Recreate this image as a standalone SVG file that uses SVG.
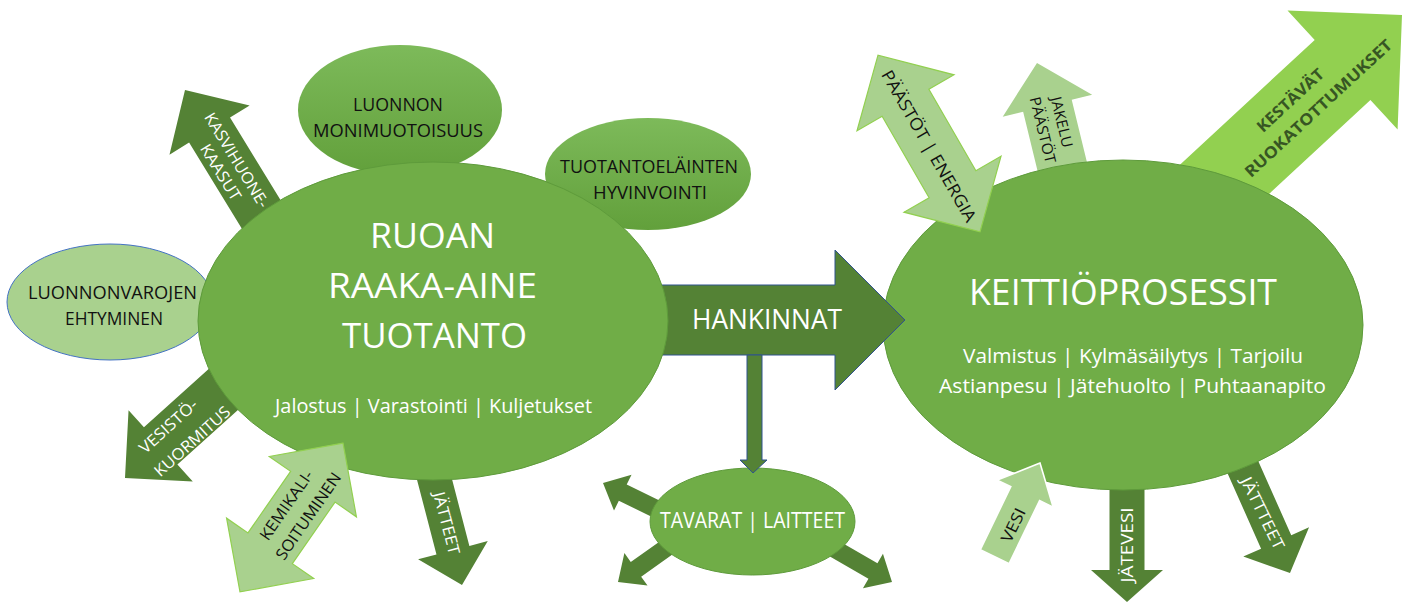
<svg xmlns="http://www.w3.org/2000/svg" width="1410" height="603" viewBox="0 0 1410 603">
  <defs>
    <linearGradient id="softGreen" x1="0" y1="0" x2="0" y2="1">
      <stop offset="0" stop-color="#7DBA5A"/>
      <stop offset="1" stop-color="#62A03B"/>
    </linearGradient>
    <style>
      .t { font-family: "Open Sans", "Liberation Sans", sans-serif; }
      .w { fill: #ffffff; }
      .k { fill: #111111; }
      .g { fill: #375623; font-weight: 700; }
      .mid { text-anchor: middle; }
      .dark { fill: #548235; }
      .light { fill: #A9D18E; }
      .bright { fill: #92D050; }
      .edge-bright { stroke: #92D050; stroke-width: 1.2; }
      .edge-white { stroke: #ffffff; stroke-width: 1.6; }
      .ell { fill: #70AD47; stroke: #5E9B3B; stroke-width: 1; }
      .ell-soft { fill: url(#softGreen); stroke: none; }
      .link { fill: #548235; stroke: #2F528F; stroke-width: 1; }
    </style>
  </defs>

  <rect width="1410" height="603" fill="#ffffff"/>

  <!-- arrows that start behind the kitchen ellipse -->
  <g id="jakelu-paastot">
    <polygon class="light" points="0,0 -44,-46 -44,-25 -140,-25 -140,25 -44,25 -44,46" transform="translate(1037,63) rotate(-103.7)"/>
    <text class="t k mid" font-size="15" textLength="52" lengthAdjust="spacingAndGlyphs" x="0" y="5.5" transform="translate(1062,122) rotate(76.3)">JAKELU</text>
    <text class="t k mid" font-size="15" textLength="68" lengthAdjust="spacingAndGlyphs" x="0" y="5.5" transform="translate(1043,130) rotate(76.3)">PÄÄSTÖT</text>
  </g>
  <g id="kestavat-ruokatottumukset">
    <polygon class="bright" points="0,0 -81,-81 -81,-41 -300,-41 -300,41 -81,41 -81,81" transform="translate(1402,15) rotate(-42.8)"/>
    <text class="t g mid" font-size="16" textLength="85" lengthAdjust="spacingAndGlyphs" x="0" y="6" transform="translate(1290,100) rotate(-42.8)">KESTÄVÄT</text>
    <text class="t g mid" font-size="16" textLength="194" lengthAdjust="spacingAndGlyphs" x="0" y="6" transform="translate(1318,108) rotate(-42.8)">RUOKATOTTUMUKSET</text>
  </g>
  <g id="jatevesi">
    <polygon class="dark" points="0,0 -32,-36 -32,-17.5 -135,-17.5 -135,17.5 -32,17.5 -32,36" transform="translate(1127,602) rotate(90)"/>
    <text class="t w mid" font-size="16" textLength="75" lengthAdjust="spacingAndGlyphs" x="0" y="6" transform="translate(1127,545) rotate(-90)">JÄTEVESI</text>
  </g>
  <g id="jatteet-keittio">
    <polygon class="dark" points="0,0 -34,-36 -34,-16.5 -130,-16.5 -130,16.5 -34,16.5 -34,36" transform="translate(1290,573) rotate(66)"/>
    <text class="t w mid" font-size="16" textLength="79" lengthAdjust="spacingAndGlyphs" x="0" y="6" transform="translate(1263,513) rotate(64)">JÄTTTEET</text>
  </g>

  <!-- kitchen processes -->
  <g id="keittioprosessit">
    <ellipse class="ell" cx="1123" cy="325" rx="240" ry="165"/>
    <text class="t w mid" font-size="37" textLength="308" lengthAdjust="spacingAndGlyphs" x="1123" y="305">KEITTIÖPROSESSIT</text>
    <text class="t w mid" font-size="20" textLength="340" lengthAdjust="spacingAndGlyphs" x="1133" y="363">Valmistus | Kylmäsäilytys | Tarjoilu</text>
    <text class="t w mid" font-size="20" textLength="387" lengthAdjust="spacingAndGlyphs" x="1132.5" y="393">Astianpesu | Jätehuolto | Puhtaanapito</text>
  </g>

  <!-- arrows drawn over the kitchen ellipse -->
  <g id="paastot-energia">
    <polygon class="light edge-bright" points="102,0 47,-56 47,-27 -47,-27 -47,-56 -102,0 -47,56 -47,27 47,27 47,56" transform="translate(929,143.5) rotate(60)"/>
    <text class="t k mid" font-size="17" textLength="172" lengthAdjust="spacingAndGlyphs" x="0" y="6" transform="translate(929,146) rotate(60)">PÄÄSTÖT | ENERGIA</text>
  </g>
  <g id="vesi">
    <polygon class="light edge-white" points="0,0 -34,-31 -34,-16 -104,-16 -104,16 -34,16 -34,31" transform="translate(1040,463) rotate(-64.2)"/>
    <text class="t k mid" font-size="16" textLength="36" lengthAdjust="spacingAndGlyphs" x="0" y="6" transform="translate(1013,525) rotate(-64.2)">VESI</text>
  </g>

  <!-- goods and equipment -->
  <g id="tavarat-laitteet">
    <polygon class="dark" points="0,0 -22,-20 -22,-9 -80,-9 -80,9 -22,9 -22,20" transform="translate(603,483) rotate(206)"/>
    <polygon class="dark" points="0,0 -22,-20 -22,-9 -80,-9 -80,9 -22,9 -22,20" transform="translate(618,582) rotate(144.7)"/>
    <polygon class="dark" points="0,0 -22,-20 -22,-9 -80,-9 -80,9 -22,9 -22,20" transform="translate(892,582) rotate(30)"/>
    <ellipse class="ell" cx="752.5" cy="521.5" rx="102.5" ry="53.5"/>
    <text class="t w mid" font-size="21" textLength="185" lengthAdjust="spacingAndGlyphs" x="752.5" y="528">TAVARAT | LAITTEET</text>
  </g>

  <!-- procurement flow -->
  <g id="connectors">
    <polygon class="link" points="620,285 835,285 835,250 905,320 835,390 835,355 620,355"/>
    <text class="t w mid" font-size="28" textLength="150" lengthAdjust="spacingAndGlyphs" x="767" y="329">HANKINNAT</text>
    <polygon class="link" points="747,355 762,355 762,460 767,460 753,473 740,460 747,460"/>
  </g>

  <!-- items behind the raw material ellipse -->
  <g id="luonnon-monimuotoisuus">
    <ellipse class="ell-soft" cx="400" cy="110" rx="102" ry="65"/>
    <text class="t k mid" font-size="18" textLength="90" lengthAdjust="spacingAndGlyphs" x="398" y="111">LUONNON</text>
    <text class="t k mid" font-size="18" textLength="170" lengthAdjust="spacingAndGlyphs" x="398" y="137">MONIMUOTOISUUS</text>
  </g>
  <g id="tuotantoelainten-hyvinvointi">
    <ellipse class="ell-soft" cx="648" cy="174" rx="103" ry="56"/>
    <text class="t k mid" font-size="18" textLength="178" lengthAdjust="spacingAndGlyphs" x="649" y="173">TUOTANTOELÄINTEN</text>
    <text class="t k mid" font-size="18" textLength="114" lengthAdjust="spacingAndGlyphs" x="650" y="199">HYVINVOINTI</text>
  </g>
  <g id="luonnonvarojen-ehtyminen">
    <ellipse cx="110" cy="302" rx="103" ry="58" fill="#A9D18E" stroke="#4472C4" stroke-width="1"/>
    <text class="t k mid" font-size="18" textLength="169" lengthAdjust="spacingAndGlyphs" x="112.5" y="299">LUONNONVAROJEN</text>
    <text class="t k mid" font-size="18" textLength="98" lengthAdjust="spacingAndGlyphs" x="114" y="325">EHTYMINEN</text>
  </g>
  <g id="kasvihuonekaasut">
    <polygon class="dark" points="0,0 -47,-47 -47,-24 -175,-24 -175,24 -47,24 -47,47" transform="translate(185,90) rotate(238.5)"/>
    <text class="t w mid" font-size="16" textLength="108" lengthAdjust="spacingAndGlyphs" x="0" y="6" transform="translate(237,160) rotate(58.5)">KASVIHUONE-</text>
    <text class="t w mid" font-size="16" textLength="63" lengthAdjust="spacingAndGlyphs" x="0" y="6" transform="translate(221,172) rotate(58.5)">KAASUT</text>
  </g>
  <g id="vesistokuormitus">
    <polygon class="dark" points="0,0 -48,-48 -48,-25 -150,-25 -150,25 -48,25 -48,48" transform="translate(125,478) rotate(138)"/>
    <text class="t w mid" font-size="16" textLength="72" lengthAdjust="spacingAndGlyphs" x="0" y="6" transform="translate(168,426) rotate(-42)">VESISTÖ-</text>
    <text class="t w mid" font-size="16" textLength="96" lengthAdjust="spacingAndGlyphs" x="0" y="6" transform="translate(192,441) rotate(-42)">KUORMITUS</text>
  </g>
  <g id="jatteet-tuotanto">
    <polygon class="dark" points="0,0 -36,-36 -36,-17 -120,-17 -120,17 -36,17 -36,36" transform="translate(462,585) rotate(75.4)"/>
    <text class="t w mid" font-size="16" textLength="64" lengthAdjust="spacingAndGlyphs" x="0" y="6" transform="translate(447,523) rotate(75.4)">JÄTTEET</text>
  </g>

  <!-- raw material production -->
  <g id="raaka-ainetuotanto">
    <ellipse class="ell" cx="433" cy="321" rx="235" ry="159"/>
    <text class="t w mid" font-size="35" textLength="125" lengthAdjust="spacingAndGlyphs" x="432.5" y="248">RUOAN</text>
    <text class="t w mid" font-size="35" textLength="209" lengthAdjust="spacingAndGlyphs" x="432.5" y="298">RAAKA-AINE</text>
    <text class="t w mid" font-size="35" textLength="185" lengthAdjust="spacingAndGlyphs" x="434.5" y="348">TUOTANTO</text>
    <text class="t w mid" font-size="20" textLength="317" lengthAdjust="spacingAndGlyphs" x="433.5" y="413">Jalostus | Varastointi | Kuljetukset</text>
  </g>

  <!-- chemical exposure, drawn over the raw material ellipse -->
  <g id="kemikalisoituminen">
    <polygon class="light edge-bright" points="90.5,0 37.5,-53 37.5,-27 -37.5,-27 -37.5,-53 -90.5,0 -37.5,53 -37.5,27 37.5,27 37.5,53" transform="translate(291.5,517.5) rotate(-55.3)"/>
    <text class="t k mid" font-size="16" textLength="81" lengthAdjust="spacingAndGlyphs" x="0" y="6" transform="translate(286,505) rotate(-55.3)">KEMIKALI-</text>
    <text class="t k mid" font-size="16" textLength="102" lengthAdjust="spacingAndGlyphs" x="0" y="6" transform="translate(308,516) rotate(-55.3)">SOITUMINEN</text>
  </g>
</svg>
